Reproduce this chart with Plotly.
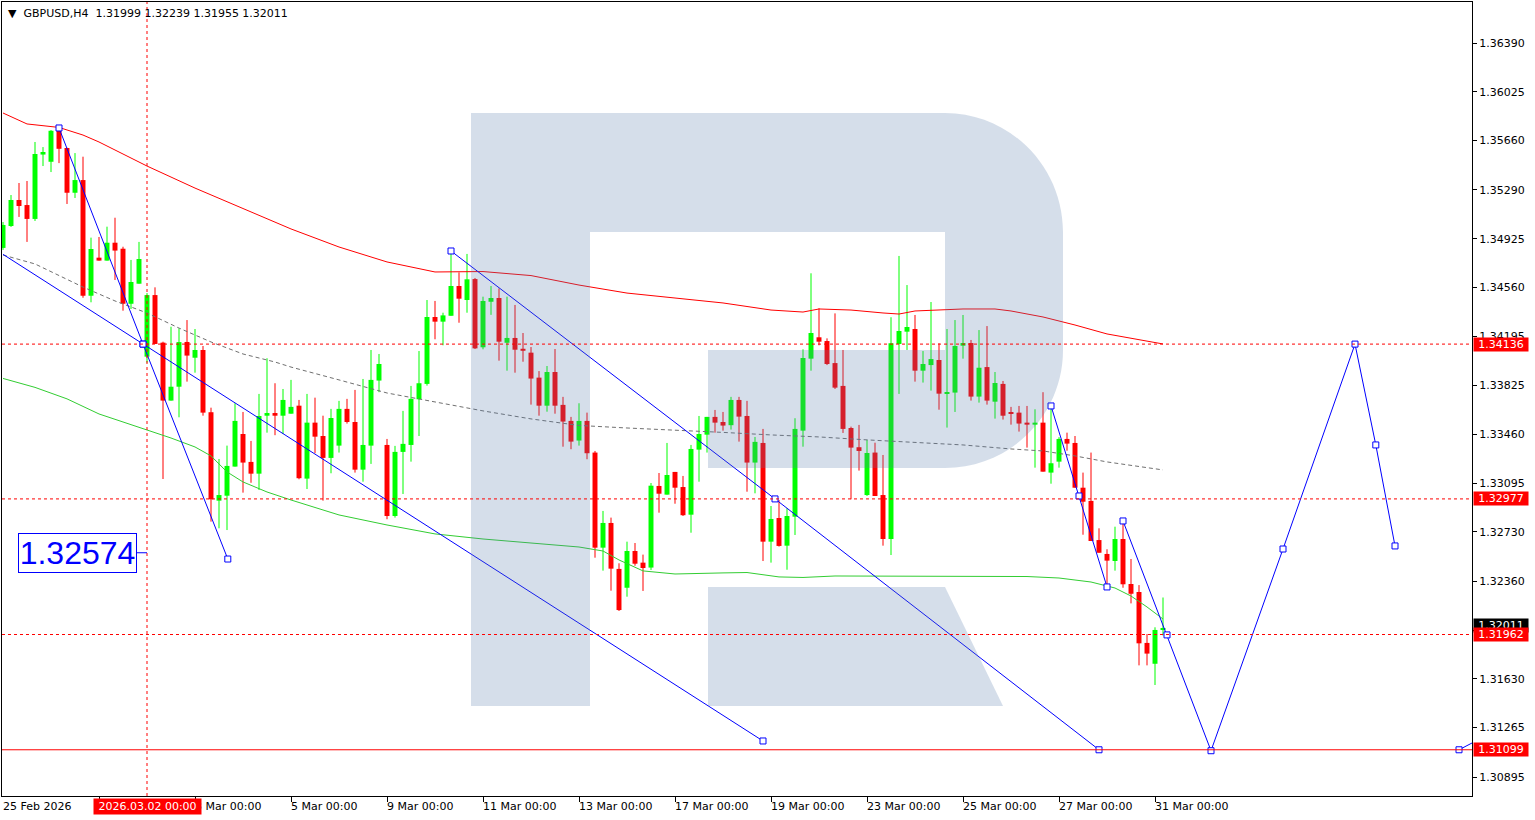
import plotly.graph_objects as go

# ---------------- data (GBPUSD, H4) ----------------
opens = [1.34856, 1.35020, 1.35215, 1.35177, 1.35073, 1.35555, 1.35501, 1.35733, 1.35604, 1.35269,
         1.35364, 1.34498, 1.34783, 1.34761, 1.34895, 1.34850, 1.34438, 1.34588, 1.34042, 1.34503,
         1.34147, 1.33713, 1.33817, 1.34152, 1.34034, 1.34092, 1.33626, 1.32964, 1.33001, 1.33219,
         1.33463, 1.33254, 1.33166, 1.33600, 1.33620, 1.33600, 1.33615, 1.33675, 1.33129, 1.33548,
         1.33448, 1.33284, 1.33376, 1.33651, 1.33553, 1.33196, 1.33376, 1.33863, 1.33381, 1.32849,
         1.33329, 1.33381, 1.33723, 1.33838, 1.34339, 1.34304, 1.34348, 1.34571, 1.34466, 1.34623,
         1.34112, 1.34453, 1.34481, 1.34146, 1.34182, 1.34101, 1.34072, 1.33885, 1.33675, 1.33927,
         1.33681, 1.33561, 1.33414, 1.33561, 1.33324, 1.32612, 1.32797, 1.32453, 1.32312, 1.32587,
         1.32500, 1.32463, 1.33074, 1.33009, 1.33179, 1.33066, 1.32859, 1.33346, 1.33458, 1.33591,
         1.33553, 1.33529, 1.33718, 1.33598, 1.33249, 1.33396, 1.32657, 1.32834, 1.32627, 1.32844,
         1.33488, 1.34027, 1.34187, 1.34159, 1.33994, 1.33823, 1.33508, 1.33364, 1.33006, 1.33324,
         1.33006, 1.32677, 1.34137, 1.34229, 1.34249, 1.33937, 1.33979, 1.34017, 1.33765, 1.33773,
         1.34124, 1.34144, 1.33743, 1.33964, 1.33705, 1.33838, 1.33620, 1.33623, 1.33548, 1.33533,
         1.33548, 1.33174, 1.33256, 1.33426, 1.33396, 1.33061, 1.32962, 1.32669, 1.32565, 1.32512,
         1.32677, 1.32340, 1.32280, 1.31899, 1.31743, 1.31999]
highs = [1.35050, 1.35252, 1.35342, 1.35357, 1.35649, 1.35611, 1.35738, 1.35753, 1.35606, 1.35566,
         1.35539, 1.34933, 1.34938, 1.35015, 1.35082, 1.34865, 1.34766, 1.34901, 1.34518, 1.34561,
         1.34154, 1.34266, 1.34254, 1.34316, 1.34249, 1.34122, 1.33660, 1.33276, 1.33376, 1.33693,
         1.33628, 1.33411, 1.33763, 1.34030, 1.33843, 1.33800, 1.33868, 1.33718, 1.33763, 1.33735,
         1.33600, 1.33651, 1.33711, 1.33726, 1.33793, 1.33875, 1.34092, 1.34062, 1.33426, 1.33374,
         1.33636, 1.33823, 1.34084, 1.34466, 1.34459, 1.34371, 1.34826, 1.34673, 1.34811, 1.34631,
         1.34491, 1.34571, 1.34553, 1.34491, 1.34429, 1.34219, 1.34114, 1.33934, 1.33972, 1.34099,
         1.33741, 1.33591, 1.33693, 1.33623, 1.33336, 1.32887, 1.32837, 1.32495, 1.32657, 1.32647,
         1.32560, 1.33096, 1.33171, 1.33396, 1.33179, 1.33149, 1.33381, 1.33598, 1.33591, 1.33643,
         1.33628, 1.33741, 1.33741, 1.33711, 1.33441, 1.33501, 1.32924, 1.32969, 1.32907, 1.33581,
         1.34097, 1.34666, 1.34404, 1.34179, 1.34366, 1.34092, 1.33518, 1.33531, 1.33419, 1.33398,
         1.33306, 1.34337, 1.34796, 1.34578, 1.34354, 1.34084, 1.34451, 1.34142, 1.34249, 1.34316,
         1.34354, 1.34167, 1.34241, 1.34271, 1.33927, 1.33860, 1.33666, 1.33673, 1.33673, 1.33648,
         1.33776, 1.33673, 1.33439, 1.33473, 1.33448, 1.33174, 1.33324, 1.32757, 1.32600, 1.32769,
         1.32802, 1.32527, 1.32332, 1.31966, 1.32016, 1.32239]
lows = [1.34841, 1.35013, 1.35088, 1.34901, 1.35058, 1.35469, 1.35424, 1.35491, 1.35185, 1.35230,
        1.34483, 1.34449, 1.34761, 1.34761, 1.34616, 1.34386, 1.34399, 1.34588, 1.33997, 1.34137,
        1.33126, 1.33713, 1.33588, 1.33855, 1.33922, 1.33600, 1.32807, 1.32757, 1.32744, 1.33219,
        1.33024, 1.33098, 1.33044, 1.33473, 1.33454, 1.33463, 1.33615, 1.33124, 1.33051, 1.33319,
        1.32964, 1.33169, 1.33324, 1.33541, 1.33174, 1.33106, 1.33239, 1.33776, 1.32825, 1.32837,
        1.33014, 1.33256, 1.33448, 1.33825, 1.34172, 1.34127, 1.34348, 1.34296, 1.34371, 1.34099,
        1.34097, 1.34355, 1.34012, 1.33937, 1.33922, 1.34004, 1.33683, 1.33600, 1.33630, 1.33615,
        1.33368, 1.33349, 1.33376, 1.33274, 1.32537, 1.32440, 1.32290, 1.32138, 1.32245, 1.32477,
        1.32288, 1.32445, 1.32874, 1.33009, 1.32941, 1.32849, 1.32724, 1.33106, 1.33324, 1.33473,
        1.33488, 1.33496, 1.33406, 1.33031, 1.33019, 1.32512, 1.32500, 1.32620, 1.32447, 1.32707,
        1.33368, 1.33937, 1.34127, 1.33979, 1.33800, 1.33471, 1.32974, 1.33189, 1.32999, 1.32999,
        1.32627, 1.32557, 1.33763, 1.34092, 1.33855, 1.33848, 1.33788, 1.33645, 1.33511, 1.33628,
        1.34027, 1.33713, 1.33698, 1.33683, 1.33578, 1.33571, 1.33533, 1.33481, 1.33361, 1.33211,
        1.33181, 1.33091, 1.33211, 1.33338, 1.33061, 1.32709, 1.32662, 1.32574, 1.32327, 1.32440,
        1.32312, 1.32195, 1.31731, 1.31731, 1.31584, 1.31955]
closes = [1.35028, 1.35215, 1.35170, 1.35073, 1.35559, 1.35574, 1.35733, 1.35598, 1.35269, 1.35364,
          1.34498, 1.34848, 1.34761, 1.34895, 1.34836, 1.34438, 1.34601, 1.34773, 1.34503, 1.34137,
          1.33713, 1.33817, 1.34151, 1.34050, 1.34092, 1.33623, 1.32974, 1.33006, 1.33224, 1.33561,
          1.33249, 1.33166, 1.33598, 1.33620, 1.33600, 1.33718, 1.33666, 1.33132, 1.33548, 1.33443,
          1.33284, 1.33583, 1.33651, 1.33553, 1.33196, 1.33381, 1.33868, 1.33987, 1.32849, 1.33329,
          1.33389, 1.33726, 1.33843, 1.34339, 1.34304, 1.34351, 1.34571, 1.34476, 1.34621, 1.34104,
          1.34459, 1.34481, 1.34154, 1.34182, 1.34094, 1.34086, 1.33878, 1.33675, 1.33927, 1.33675,
          1.33556, 1.33406, 1.33561, 1.33319, 1.32612, 1.32797, 1.32455, 1.32145, 1.32587, 1.32492,
          1.32460, 1.33076, 1.33016, 1.33156, 1.33061, 1.32855, 1.33351, 1.33463, 1.33591, 1.33548,
          1.33526, 1.33718, 1.33593, 1.33249, 1.33404, 1.32657, 1.32827, 1.32625, 1.32849, 1.33501,
          1.34032, 1.34219, 1.34154, 1.33987, 1.33810, 1.33501, 1.33361, 1.33336, 1.33321, 1.32999,
          1.32677, 1.34142, 1.34234, 1.34264, 1.33937, 1.33987, 1.34024, 1.33765, 1.33770, 1.34122,
          1.34144, 1.33743, 1.33959, 1.33713, 1.33845, 1.33600, 1.33615, 1.33541, 1.33533, 1.33548,
          1.33181, 1.33244, 1.33426, 1.33391, 1.33061, 1.32956, 1.32662, 1.32574, 1.32515, 1.32677,
          1.32338, 1.32267, 1.31896, 1.31819, 1.31996, 1.32011]

# moving averages : bar index -> price
ma_red_bars = [0, 3, 7, 10, 12, 18, 24, 30, 36, 42, 48, 54, 60, 66, 72, 78, 84, 90, 96, 100, 102,
               106, 110, 112, 114, 118, 120, 124, 126, 130, 134, 138, 145]
ma_red = [1.35866, 1.35784, 1.35758, 1.35701, 1.35649, 1.35469, 1.35304, 1.35148, 1.34998, 1.34863,
          1.34751, 1.34676, 1.34679, 1.34649, 1.34578, 1.34518, 1.34481, 1.34444, 1.34391, 1.34376,
          1.34399, 1.34391, 1.34369, 1.34361, 1.34384, 1.34391, 1.34399, 1.34399, 1.34384, 1.34339,
          1.34279, 1.34212, 1.34137]
ma_green_bars = [0, 4, 8, 12, 18, 21, 24, 26, 28, 30, 33, 36, 42, 48, 54, 60, 66, 72, 75, 77, 80,
                 84, 90, 93, 97, 100, 104, 112, 120, 128, 132, 136, 139, 141, 143, 145]
ma_green = [1.33879, 1.33812, 1.33726, 1.33613, 1.33493, 1.33433, 1.33366, 1.33299, 1.33179, 1.33104,
            1.33029, 1.32969, 1.32857, 1.32782, 1.32715, 1.32677, 1.32647, 1.32617, 1.32587, 1.32520,
            1.32438, 1.32415, 1.32423, 1.32426, 1.32393, 1.32389, 1.32400, 1.32400, 1.32400, 1.32396,
            1.32385, 1.32355, 1.32310, 1.32250, 1.32168, 1.32078]
ma_gray_bars = [0, 4, 10, 14, 18, 22, 26, 30, 34, 36, 42, 48, 54, 60, 66, 72, 78, 84, 90, 96, 102,
                108, 114, 120, 126, 130, 134, 138, 145]
ma_gray = [1.34803, 1.34736, 1.34563, 1.34459, 1.34369, 1.34256, 1.34152, 1.34062, 1.34002, 1.33964,
           1.33868, 1.33770, 1.33703, 1.33636, 1.33576, 1.33527, 1.33508, 1.33493, 1.33475, 1.33456,
           1.33441, 1.33419, 1.33400, 1.33381, 1.33351, 1.33336, 1.33299, 1.33254, 1.33194]

# drawn trend lines / forecast (bar index, price)
line1_bars = [7, 17.5, 28.1]
line1_prices = [1.35754, 1.34136, 1.32527]
line2_bars = [0, 17.5, 95]
line2_prices = [1.34808, 1.34136, 1.31165]
line3_bars = [56, 96.5, 137]
line3_prices = [1.34833, 1.32977, 1.31099]
line4_bars = [131, 134.5, 138]
line4_prices = [1.33673, 1.32999, 1.32318]
forecast_bars = [140, 145.5, 151, 160, 169, 171.6, 174]
forecast_prices = [1.32812, 1.31959, 1.31092, 1.32602, 1.34136, 1.33381, 1.32625]
line6_bars = [182, 184.6]
line6_prices = [1.31099, 1.31180]

# levels and labels
dashed_levels = [1.34136, 1.32977, 1.31962]
solid_level = 1.31099
current_price = 1.32011
text_label_price = 1.32574
crosshair_bar = 18
crosshair_text = "2026.03.02 00:00"
header_text = "\u25BC  GBPUSD,H4  1.31999 1.32239 1.31955 1.32011"

date_label_bars = [0, 24, 36, 48, 60, 72, 84, 96, 108, 120, 132, 144]
date_labels = ["25 Feb 2026", "3 Mar 00:00", "5 Mar 00:00", "9 Mar 00:00", "11 Mar 00:00",
               "13 Mar 00:00", "17 Mar 00:00", "19 Mar 00:00", "23 Mar 00:00", "25 Mar 00:00",
               "27 Mar 00:00", "31 Mar 00:00"]
date_tick_bars = [12, 24, 36, 48, 60, 72, 84, 96, 108, 120, 132, 144]
price_ticks = [1.36390, 1.36025, 1.35660, 1.35290, 1.34925, 1.34560, 1.34195, 1.33825, 1.33460,
               1.33095, 1.32730, 1.32360, 1.31995, 1.31630, 1.31265, 1.30895]

# ---------------- figure ----------------
W, H = 1535, 820
ML, MR, MT, MB = 2, 63, 2, 24
BULL, BEAR = "#00ff00", "#ff0000"
FONT = "DejaVu Sans"

fig = go.Figure()

idx = list(range(len(opens)))
for side, color in (("bull", BULL), ("bear", BEAR)):
    sel = [i for i in idx if (closes[i] >= opens[i]) == (side == "bull")]
    wx, wy = [], []
    for i in sel:
        wx += [i, i, None]
        wy += [lows[i], highs[i], None]
    fig.add_trace(go.Scatter(x=wx, y=wy, mode="lines", line=dict(color=color, width=1),
                             hoverinfo="skip"))
    fig.add_trace(go.Bar(x=sel,
                         base=[min(opens[i], closes[i]) for i in sel],
                         y=[max(abs(closes[i] - opens[i]), 0.00008) for i in sel],
                         width=0.62, marker=dict(color=color, line=dict(width=0)),
                         hoverinfo="skip"))

fig.add_trace(go.Scatter(x=ma_red_bars, y=ma_red, mode="lines", line=dict(color="#ff0000", width=1)))
fig.add_trace(go.Scatter(x=ma_green_bars, y=ma_green, mode="lines", line=dict(color="#32cd32", width=1)))
fig.add_trace(go.Scatter(x=ma_gray_bars, y=ma_gray, mode="lines",
                         line=dict(color="#707070", width=1, dash="4px,3px")))

BLUE = "#0000ff"
for bx, by, mode in ((line1_bars, line1_prices, "all"), (line2_bars, line2_prices, "skipfirst"),
                     (line3_bars, line3_prices, "all"), (line4_bars, line4_prices, "all"),
                     (forecast_bars, forecast_prices, "all"), (line6_bars, line6_prices, "first")):
    fig.add_trace(go.Scatter(x=bx, y=by, mode="lines", line=dict(color=BLUE, width=1)))
    if mode == "skipfirst":
        mx, my = bx[1:], by[1:]
    elif mode == "first":
        mx, my = bx[:1], by[:1]
    else:
        mx, my = bx, by
    fig.add_trace(go.Scatter(x=mx, y=my, mode="markers",
                             marker=dict(symbol="square", size=6, color="white",
                                         line=dict(color=BLUE, width=1))))

# watermark (decoration in paper coords, converted from pixel layout)
def px(x):
    return (x - ML) / (W - ML - MR)

def py(y):
    return (H - MB - y) / (H - MT - MB)

def path(pts):
    s = ""
    for p in pts:
        if p[0] in ("M", "L"):
            s += f"{p[0]} {px(p[1]):.5f},{py(p[2]):.5f} "
        elif p[0] == "C":
            s += "C " + " ".join(f"{px(p[k]):.5f},{py(p[k+1]):.5f}" for k in (1, 3, 5)) + " "
    return s + "Z"

K = 0.5523
r = 118
outer = [("M", 471, 113), ("L", 945, 113),
         ("C", 945 + K * r, 113, 1063, 232 - K * r, 1063, 232),
         ("L", 1063, 350),
         ("C", 1063, 350 + K * r, 945 + K * r, 468, 945, 468),
         ("L", 708, 468), ("L", 708, 350), ("L", 945, 350), ("L", 945, 232),
         ("L", 590, 232), ("L", 590, 706), ("L", 471, 706)]
leg = [("M", 708, 587), ("L", 945, 587), ("L", 1003, 706), ("L", 708, 706)]
WM = "rgba(86,125,172,0.25)"
shapes = [dict(type="path", xref="paper", yref="paper", path=path(outer), fillcolor=WM,
               line=dict(width=0), layer="above"),
          dict(type="path", xref="paper", yref="paper", path=path(leg), fillcolor=WM,
               line=dict(width=0), layer="above")]

for lv in dashed_levels:
    shapes.append(dict(type="line", xref="paper", x0=0, x1=1, yref="y", y0=lv, y1=lv,
                       line=dict(color="#ff0000", width=1, dash="3px,3px"), layer="above"))
shapes.append(dict(type="line", xref="paper", x0=0, x1=1, yref="y", y0=solid_level, y1=solid_level,
                   line=dict(color="#ff0000", width=1), layer="above"))
shapes.append(dict(type="line", xref="x", x0=crosshair_bar, x1=crosshair_bar, yref="paper", y0=0, y1=1,
                   line=dict(color="#ff0000", width=1, dash="3px,3px"), layer="above"))
shapes.append(dict(type="line", xref="x", x0=16.75, x1=crosshair_bar, yref="y",
                   y0=text_label_price, y1=text_label_price, line=dict(color=BLUE, width=1),
                   layer="above"))

annotations = []
# date labels
for b, t in zip(date_label_bars, date_labels):
    annotations.append(dict(x=b, xref="x", y=0, yref="paper", yanchor="top", xanchor="left",
                            yshift=-2, xshift=-2, text=t, showarrow=False,
                            font=dict(family=FONT, size=11, color="black")))
annotations.append(dict(x=crosshair_bar, xref="x", y=0, yref="paper", yanchor="top", xanchor="center",
                        yshift=-2, text=crosshair_text, showarrow=False, bgcolor="#ff0000",
                        borderpad=1, font=dict(family=FONT, size=11, color="white"), width=105))
# price labels on axis
annotations.append(dict(x=1, xref="paper", y=current_price, yref="y", xanchor="left", xshift=1,
                        yshift=2, text=f"{current_price:.5f}", showarrow=False, bgcolor="black",
                        borderpad=0, width=54, font=dict(family=FONT, size=11, color="white")))
for lv in dashed_levels + [solid_level]:
    annotations.append(dict(x=1, xref="paper", y=lv, yref="y", xanchor="left", xshift=1,
                            text=f"{lv:.5f}", showarrow=False, bgcolor="#ff0000", borderpad=0,
                            width=54, font=dict(family=FONT, size=11, color="white")))
# big price text label
annotations.append(dict(x=9.3, xref="x", y=text_label_price, yref="y", text=f"{text_label_price:.5f}",
                        showarrow=False, bgcolor="white", bordercolor=BLUE, borderwidth=1,
                        borderpad=0, width=117, height=38,
                        font=dict(family="Liberation Sans", size=32, color=BLUE)))
# header
annotations.append(dict(x=0, xref="paper", y=1, yref="paper", xanchor="left", yanchor="top",
                        xshift=4, yshift=-3, text=header_text, showarrow=False,
                        font=dict(family=FONT, size=11, color="black")))

fig.update_layout(
    width=W, height=H, margin=dict(l=ML, r=MR, t=MT, b=MB),
    paper_bgcolor="white", plot_bgcolor="white", showlegend=False,
    barmode="overlay", font=dict(family=FONT, size=11, color="black"),
    shapes=shapes, annotations=annotations,
    xaxis=dict(range=[-0.125, 183.625], showgrid=False, zeroline=False, showline=True,
               linecolor="black", linewidth=1, mirror=True, ticks="outside", ticklen=5,
               tickcolor="black", tickvals=date_tick_bars, showticklabels=False),
    yaxis=dict(range=[1.30753, 1.36697], side="right", showgrid=False, zeroline=False,
               showline=True, linecolor="black", linewidth=1, mirror=True, ticks="outside",
               ticklen=4, tickcolor="black", tickvals=price_ticks,
               ticktext=[f"{v:.5f}" for v in price_ticks],
               tickfont=dict(family=FONT, size=11, color="black")),
)

fig.write_html("out.html", config={"displayModeBar": False},
               post_script="document.body.style.margin='0px';")
